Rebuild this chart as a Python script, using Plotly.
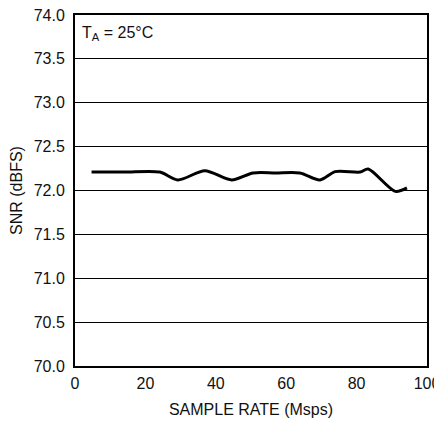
import plotly.graph_objects as go

rate = [4.7, 14, 24.1, 29.2, 36.9, 44.5, 50.6, 57, 63.9, 69.6, 73.9, 81, 83.3, 91, 94.3]
snr = [72.21, 72.21, 72.21, 72.12, 72.225, 72.12, 72.2, 72.2, 72.2, 72.12, 72.215, 72.21, 72.245, 71.99, 72.03]

font = "Liberation Sans, Arial, Helvetica"
txt = "#111"

fig = go.Figure()
fig.add_trace(go.Scatter(x=rate, y=snr, mode="lines",
                         line=dict(color="black", width=3, shape="spline", smoothing=0.8)))

fig.update_layout(
    width=434, height=410,
    margin=dict(l=67, r=15, t=7, b=52, autoexpand=False),
    paper_bgcolor="white", plot_bgcolor="white",
    showlegend=False,
    font=dict(family=font, size=16, color=txt),
    xaxis=dict(range=[0, 100], tickvals=[0, 20, 40, 60, 80, 100], showgrid=False,
               showline=True, linecolor="black", linewidth=2, mirror=True,
               ticks="", zeroline=False, ticklabelstandoff=2, automargin=False,
               ticklabeloverflow="allow",
               title=dict(text="SAMPLE RATE (Msps)", standoff=24, font=dict(size=16))),
    yaxis=dict(range=[70, 74], tickvals=[70, 70.5, 71, 71.5, 72, 72.5, 73, 73.5, 74],
               tickformat=".1f", showgrid=True, gridcolor="black", gridwidth=1,
               showline=True, linecolor="black", linewidth=2, mirror=True,
               ticks="", zeroline=False, ticklabelstandoff=5, automargin=False,
               ticklabeloverflow="allow",
               title=dict(text="SNR (dBFS)", standoff=20, font=dict(size=16))),
)

fig.add_annotation(x=0.014, y=0.98, xref="paper", yref="paper", xanchor="left", yanchor="top",
                   text="T<sub>A</sub> = 25°C", showarrow=False, font=dict(family=font, size=16, color=txt))

fig.write_html("out.html")
